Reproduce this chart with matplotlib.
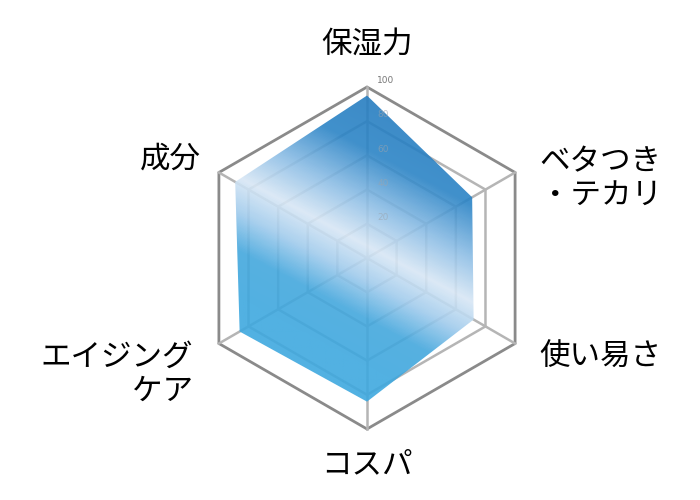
import matplotlib
matplotlib.use("Agg")
import matplotlib.pyplot as plt
import numpy as np
from matplotlib.colors import LinearSegmentedColormap
from matplotlib.patches import Polygon

plt.rcParams['font.family'] = ['Noto Sans CJK JP', 'DejaVu Sans']

labels = ['保湿力', 'ベタつき\n・テカリ', '使い易さ', 'コスパ', 'エイジング\nケア', '成分']
values = [95, 71, 72, 84, 86, 89]
ticks = [20, 40, 60, 80, 100]

angles = np.deg2rad([90, 30, -30, -90, -150, 150])

fig = plt.figure(figsize=(7, 5), dpi=100)
ax = fig.add_axes([0, 0, 1, 1])
scale = 1.71  # px per unit
cx, cy = 367, 500 - 258
ax.set_xlim(-cx / scale, (700 - cx) / scale)
ax.set_ylim(-cy / scale, (500 - cy) / scale)
ax.axis('off')

# grid rings
for r in ticks:
    xs = r * np.cos(angles)
    ys = r * np.sin(angles)
    col = '#8a8a8a' if r == 100 else '#b5b5b5'
    ax.fill(xs, ys, fill=False, edgecolor=col, lw=2 if r == 100 else 1.8, zorder=1)
for a in angles:
    ax.plot([0, 100 * np.cos(a)], [0, 100 * np.sin(a)], color='#b5b5b5', lw=1.8, zorder=1)

# tick labels
for r in ticks:
    if r == 100:
        ax.text(6, r + 1, str(r), fontsize=6.5, color='#777777',
                ha='left', va='bottom', family='DejaVu Sans', zorder=1)
    else:
        ax.text(6, r + 1, str(r), fontsize=6.5, color='#9aa4ae', alpha=0.6,
                ha='left', va='bottom', family='DejaVu Sans', zorder=3)

# data polygon with gradient fill
px = np.array(values) * np.cos(angles)
py = np.array(values) * np.sin(angles)
poly = Polygon(np.column_stack([px, py]), closed=True, facecolor='none', edgecolor='none')
ax.add_patch(poly)

cmap = LinearSegmentedColormap.from_list('glossy', [
    (0.00, '#2479bd'),
    (0.22, '#2b84c6'),
    (0.36, '#8fbfe6'),
    (0.47, '#d8e7f5'),
    (0.56, '#a2cced'),
    (0.66, '#44a7dd'),
    (0.78, '#3ea8df'),
    (1.00, '#3ea8df'),
])
gx = np.linspace(-110, 110, 400)
gy = np.linspace(-110, 110, 400)
X, Y = np.meshgrid(gx, gy)
n = np.array([-0.47, -0.88])
T = X * n[0] + Y * n[1]
im = ax.imshow(T, extent=(-110, 110, -110, 110), origin='lower', cmap=cmap,
               vmin=-100, vmax=100, alpha=0.9, zorder=2, interpolation='bilinear')
im.set_clip_path(poly)

# category labels
fs = 22
ax.text(0, 116, labels[0], fontsize=fs, ha='center', va='bottom')
ax.text(101, 46, labels[1], fontsize=fs, ha='left', va='center', linespacing=1.15)
ax.text(101, -58, labels[2], fontsize=fs, ha='left', va='center')
ax.text(0, -112, labels[3], fontsize=fs, ha='center', va='top')
ax.text(-102, -68, labels[4], fontsize=fs, ha='right', va='center', linespacing=1.15)
ax.text(-97, 58, labels[5], fontsize=fs, ha='right', va='center')

fig.savefig('out.png', dpi=100)
